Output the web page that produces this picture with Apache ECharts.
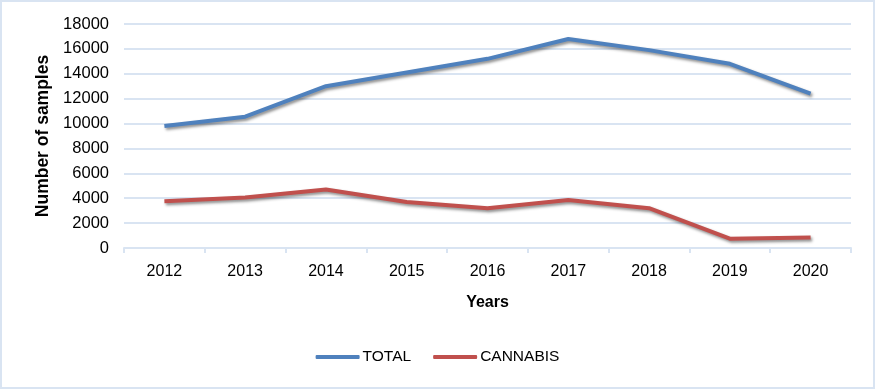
<!DOCTYPE html>
<html><head><meta charset="utf-8">
<script src="https://cdn.jsdelivr.net/npm/echarts@6/dist/echarts.min.js"></script>
<style>html,body{margin:0;padding:0;background:#fff}#c{width:875px;height:389px;box-sizing:border-box;border:2px solid #D9E4F2}</style>
</head><body><div id="c"></div>
<script>
const years = ['2012','2013','2014','2015','2016','2017','2018','2019','2020'];
const totalValues = [9800, 10550, 13000, 14100, 15200, 16800, 15900, 14800, 12400];
const cannabisValues = [3750, 4050, 4700, 3700, 3200, 3850, 3200, 750, 850];
const seriesNames = ['TOTAL', 'CANNABIS'];
const colors = ['#4F81BD', '#C0504D'];
const font = 'Liberation Sans';
const chart = echarts.init(document.getElementById('c'));
const mk = (name, data, color) => ({
  name, type: 'line', data, symbol: 'none', smooth: false,
  lineStyle: {width: 4, color, shadowColor: 'rgba(0,0,0,0.45)', shadowBlur: 3, shadowOffsetX: 1.5, shadowOffsetY: 2},
  itemStyle: {color}
});
chart.setOption({
  animation: false,
  textStyle: {fontFamily: font},
  grid: {left: 122, right: 22, top: 22, bottom: 139},
  legend: {
    bottom: 17, left: 'center', itemWidth: 44, itemHeight: 4, itemGap: 22,
    icon: 'roundRect',
    textStyle: {fontSize: 15.5, color: '#000', fontFamily: font, padding: [0, 0, 0, -2]},
    data: seriesNames
  },
  xAxis: {
    type: 'category', data: years, boundaryGap: true,
    name: 'Years', nameLocation: 'middle', nameGap: 47,
    nameTextStyle: {fontSize: 16, fontWeight: 'bold', color: '#000', fontFamily: font},
    axisLine: {lineStyle: {color: '#D9E4F2', width: 2}},
    axisTick: {show: true, length: 5, lineStyle: {color: '#D9E4F2', width: 2}},
    axisLabel: {fontSize: 16, color: '#000', margin: 16}
  },
  yAxis: {
    type: 'value', min: 0, max: 18000, interval: 2000,
    name: 'Number of samples', nameLocation: 'middle', nameGap: 72,
    nameTextStyle: {fontSize: 17.5, fontWeight: 'bold', color: '#000', fontFamily: font},
    axisLine: {show: false}, axisTick: {show: false},
    axisLabel: {fontSize: 16.5, color: '#000', margin: 15, formatter: v => String(v)},
    splitLine: {lineStyle: {color: '#D9E4F2', width: 2}}
  },
  series: [mk(seriesNames[0], totalValues, colors[0]), mk(seriesNames[1], cannabisValues, colors[1])]
});
</script></body></html>
